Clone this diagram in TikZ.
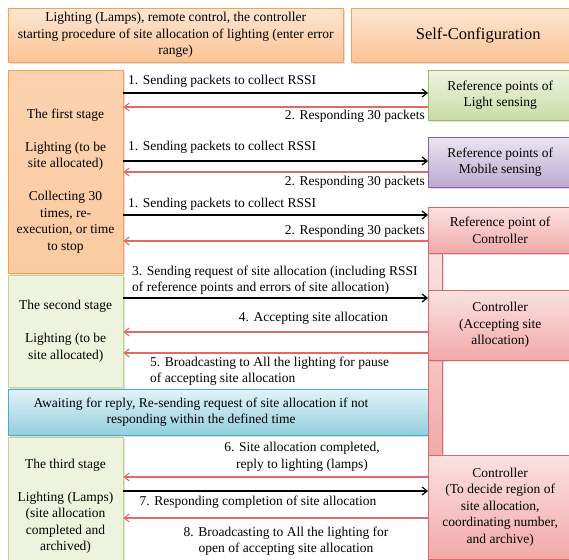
\documentclass[tikz,border=0pt]{standalone}
\usepackage{fontspec}
\setmainfont{Liberation Serif}
\usetikzlibrary{arrows.meta}
\usetikzlibrary{shadows}

\definecolor{orangeline}{HTML}{F5A15A}
\definecolor{orangetop}{HTML}{FDE7D3}
\definecolor{orangebot}{HTML}{FAC393}
\definecolor{greenline}{HTML}{9BBB59}
\definecolor{greentop}{HTML}{EEF4E2}
\definecolor{greenbot}{HTML}{C9DCA3}
\definecolor{stagefill}{HTML}{EEF3DE}
\definecolor{stageline}{HTML}{BFD394}
\definecolor{purpleline}{HTML}{8064A2}
\definecolor{purpletop}{HTML}{E9E4F0}
\definecolor{purplebot}{HTML}{BBABD0}
\definecolor{pinkline}{HTML}{D46A6A}
\definecolor{pinktop}{HTML}{FBE1E1}
\definecolor{pinkbot}{HTML}{F2A9A9}
\definecolor{blueline}{HTML}{4BACC6}
\definecolor{bluetop}{HTML}{E2F3F8}
\definecolor{bluebot}{HTML}{93CEDE}
\definecolor{replyred}{HTML}{E06A6A}

\begin{document}
\begin{tikzpicture}[x=1pt,y=-1pt,
  font=\fontsize{13.5}{16.5}\selectfont,
  box/.style={rectangle,inner sep=0pt,anchor=north west,align=center,
    drop shadow={shadow xshift=1.5pt,shadow yshift=-1.5pt,opacity=0.25}},
  orangebox/.style={box,draw=orangeline,top color=orangetop,bottom color=orangebot},
  stagebox/.style={box,draw=stageline,fill=stagefill},
  greenbox/.style={box,draw=greenline,top color=greentop,bottom color=greenbot},
  purplebox/.style={box,draw=purpleline,top color=purpletop,bottom color=purplebot},
  pinkbox/.style={box,draw=pinkline,top color=pinktop,bottom color=pinkbot},
  bluebox/.style={box,draw=blueline,top color=bluetop,bottom color=bluebot},
  sendarrow/.style={draw=black,line width=1.2pt,-{Straight Barb[length=5pt,width=8pt]}},
  replyarrow/.style={draw=replyred,line width=1.1pt,-{Straight Barb[length=5pt,width=8pt]}},
  msg/.style={inner sep=0pt}]

\useasboundingbox (0,0) rectangle (569,559);

% header
\node[orangebox,minimum width=335pt,minimum height=54pt] (intro) at (8,8)
  {Lighting (Lamps), remote control, the controller\\
   starting procedure of site allocation of lighting (enter error\\range)};
\node[orangebox,minimum width=254pt,minimum height=54pt,font=\fontsize{16.5}{18}\selectfont]
  (selfconf) at (351,8) {Self-Configuration};

% stages on the left
\node[orangebox,top color=orangetop!45!orangebot,bottom color=orangetop!20!orangebot,
  minimum width=115pt,minimum height=203pt] (stage1) at (8,70) {};
\node[align=center] (stage1txt) at (65.5,181)
  {The first stage\\[16.5pt]Lighting (to be\\site allocated)\\[16.5pt]Collecting 30\\
   times, re-\\execution, or time\\to stop};
\node[stagebox,minimum width=115pt,minimum height=112pt] (stage2) at (8,275)
  {The second stage\\[16.5pt]Lighting (to be\\site allocated)};
\node[bluebox,minimum width=420pt,minimum height=46pt] (await) at (8,389) {};
\node[align=center] (awaittxt) at (201,412)
  {Awaiting for reply, Re-sending request of site allocation if not\\
   responding within the defined time};
\node[stagebox,minimum width=115pt,minimum height=130pt] (stage3) at (8,437) {};
\node[align=center] (stage3txt) at (65.5,506)
  {The third stage\\[16.5pt]Lighting (Lamps)\\(site allocation\\completed and\\archived)};

% controller bar
\node[pinkbox,minimum width=14pt,minimum height=202pt] (bar) at (428,253) {};

% reference points and controller
\node[greenbox,minimum width=144pt,minimum height=50pt] (light) at (428,70)
  {Reference points of\\Light sensing};
\node[purplebox,minimum width=144pt,minimum height=50pt] (mobile) at (428,137)
  {Reference points of\\Mobile sensing};
\node[pinkbox,minimum width=144pt,minimum height=46pt] (refctrl) at (428,207)
  {Reference point of\\Controller};
\node[pinkbox,minimum width=144pt,minimum height=70pt] (ctrlaccept) at (428,290)
  {Controller\\(Accepting site\\allocation)};
\node[pinkbox,minimum width=144pt,minimum height=104pt] (ctrldecide) at (428,455)
  {Controller\\(To decide region of\\site allocation,\\coordinating number,\\and archive)};

% first stage messages
\draw[sendarrow] (stage1.east |- 0,93) -- (light.west |- 0,93);
\draw[replyarrow] (light.west |- 0,107) -- (stage1.east |- 0,107);
\node[msg,anchor=west] (m1a) at (128,81) {1. Sending packets to collect RSSI};
\node[msg,anchor=east] (m2a) at (425,116) {2. Responding 30 packets};

\draw[sendarrow] (stage1.east |- 0,161) -- (mobile.west |- 0,161);
\draw[replyarrow] (mobile.west |- 0,172) -- (stage1.east |- 0,172);
\node[msg,anchor=west] (m1b) at (128,147) {1. Sending packets to collect RSSI};
\node[msg,anchor=east] (m2b) at (425,182) {2. Responding 30 packets};

\draw[sendarrow] (stage1.east |- 0,215) -- (refctrl.west |- 0,215);
\draw[replyarrow] (refctrl.west |- 0,241) -- (stage1.east |- 0,241);
\node[msg,anchor=west] (m1c) at (128,204) {1. Sending packets to collect RSSI};
\node[msg,anchor=east] (m2c) at (425,231) {2. Responding 30 packets};

% second stage messages
\draw[sendarrow] (stage2.east |- 0,298) -- (ctrlaccept.west |- 0,298);
\node[msg,anchor=west,align=left] (m3) at (132,280)
  {3. Sending request of site allocation (including RSSI\\
   of reference points and errors of site allocation)};
\draw[replyarrow] (ctrlaccept.west |- 0,332) -- (stage2.east |- 0,332);
\node[msg,anchor=east] (m4) at (388,318) {4. Accepting site allocation};
\draw[replyarrow] (ctrlaccept.west |- 0,353) -- (stage2.east |- 0,353);
\node[msg,anchor=west,align=left] (m5) at (150,371)
  {5. Broadcasting to All the lighting for pause\\of accepting site allocation};

% third stage messages
\draw[replyarrow] (ctrldecide.west |- 0,477) -- (stage3.east |- 0,477);
\node[msg,align=center] (m6) at (302,457)
  {6. Site allocation completed,\\reply to lighting (lamps)};
\draw[sendarrow] (stage3.east |- 0,491) -- (ctrldecide.west |- 0,491);
\node[msg] (m7) at (258,502) {7. Responding completion of site allocation};
\draw[replyarrow] (ctrldecide.west |- 0,518) -- (stage3.east |- 0,518);
\node[msg,align=center] (m8) at (286,541)
  {8. Broadcasting to All the lighting for\\open of accepting site allocation};

\end{tikzpicture}
\end{document}
